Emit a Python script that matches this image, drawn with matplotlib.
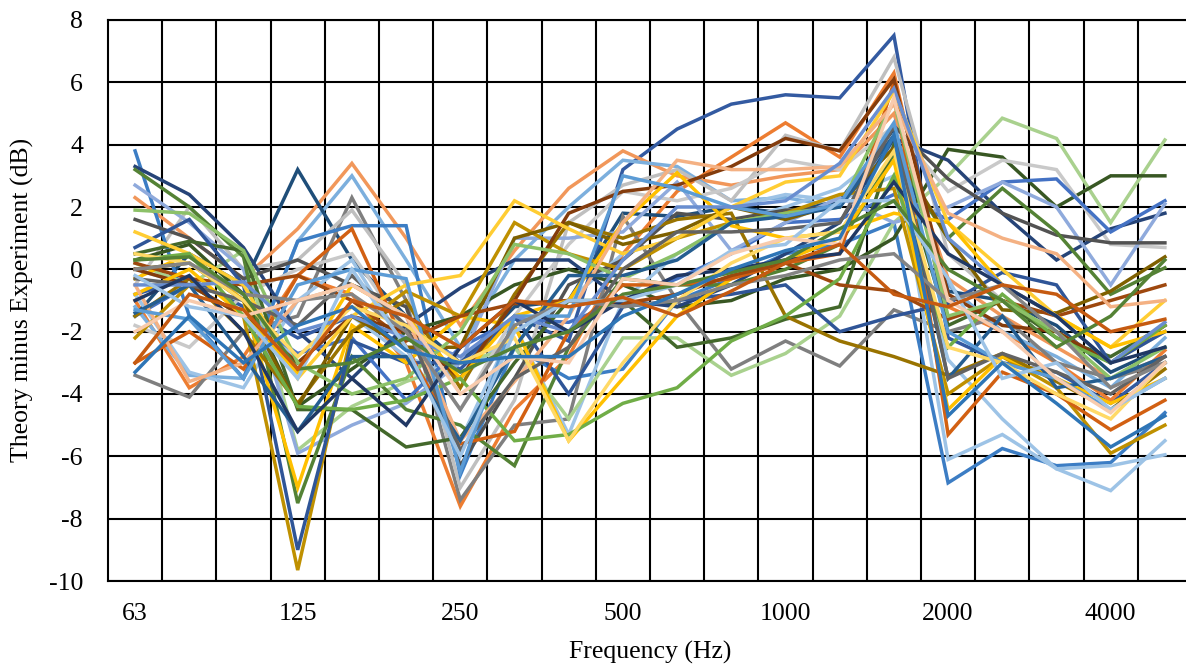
import numpy as np
import matplotlib.pyplot as plt

# one-third octave band centres
freqs = ['63', '80', '100', '125', '160', '200', '250', '315', '400', '500',
         '630', '800', '1000', '1250', '1600', '2000', '2500', '3150', '4000', '5000']
shown = ['63', '125', '250', '500', '1000', '2000', '4000']

# theory minus experiment, dB, one list per specimen
s01 = [-0.8, -0.3, -1.2, -2.2, -1.5, -2.5, -3.2, -1.5, -2.3, 3.2, 4.5, 5.3, 5.6, 5.5, 7.5, -2.2, -3.0, -3.3, -4.3, -3.0]
s02 = [-1.0, -3.8, -2.8, -0.2, -0.8, -3.0, -7.6, -4.5, -2.8, 0.5, 2.5, 3.6, 4.7, 3.6, 6.3, -1.2, -2.0, -3.0, -4.2, -2.6]
s03 = [2.3, 1.0, -0.3, 1.3, 3.4, 1.0, -1.8, 0.6, 2.6, 3.8, 3.0, 2.7, 3.0, 3.2, 5.0, -0.3, -1.5, -2.5, -3.5, -2.8]
s04 = [-1.2, -3.4, -3.5, 0.9, 3.0, 0.3, -2.5, 0.3, 2.0, 3.5, 3.3, 2.2, 2.3, 2.0, 4.1, -0.5, -2.0, -2.8, -3.8, -2.2]
s05 = [-1.5, 0.5, -0.5, 3.2, 0.3, -1.5, -3.0, -1.2, -1.0, 1.8, 1.7, 2.0, 1.8, 2.2, 4.5, -0.7, -1.0, -1.8, -3.3, -2.5]
s06 = [-3.4, -4.1, -2.0, -1.5, 2.3, -1.0, -7.4, -5.0, -4.8, 1.7, -1.0, -3.2, -2.3, -3.1, -1.3, -2.0, -1.5, -3.0, -3.5, -3.0]
s07 = [-0.5, 2.0, 0.0, 0.3, 1.9, -0.5, -7.0, -4.2, 1.5, 2.7, 3.2, 2.2, 4.3, 3.8, 6.8, 0.5, -1.0, -2.0, -3.0, -2.0]
s08 = [3.8, -1.5, -3.5, 0.9, 1.4, 1.4, -6.6, -2.5, -3.5, -3.2, -1.0, -0.3, 0.5, 0.8, 1.5, -6.85, -5.75, -6.3, -6.2, -4.6]
s09 = [-0.8, -3.3, -3.8, -1.0, 0.3, -2.5, -5.5, -1.8, -5.3, -1.0, 0.5, 1.5, 2.0, 2.6, 4.0, -6.1, -5.3, -6.4, -7.1, -5.5]
s10 = [0.0, -0.5, -1.0, -3.0, -1.5, -2.8, -3.5, -2.0, -1.0, 0.5, 1.0, 2.0, 2.4, 2.2, 3.0, -2.9, -4.8, -6.4, -6.3, -5.95]
s11 = [0.2, -0.5, 0.6, -5.8, -4.4, -3.6, -3.0, -2.5, -4.8, -2.2, -2.2, -3.4, -2.7, -1.5, 1.5, 3.0, 4.85, 4.2, 1.5, 4.15]
s12 = [0.3, 0.8, -0.8, -4.4, -3.2, -2.0, -1.5, -0.5, 0.0, -0.5, -1.2, -1.0, -0.3, 0.0, 1.0, 3.85, 3.6, 2.0, 3.0, 3.0]
s13 = [-1.8, -2.5, -0.8, 0.0, 0.5, -2.0, -4.5, -1.5, 0.8, 2.5, 2.2, 2.6, 3.5, 3.2, 4.6, 2.5, 3.5, 3.2, 0.8, 0.7]
s14 = [3.3, 2.4, 0.7, -2.0, -3.5, -1.8, -0.6, 0.3, 0.3, -1.0, -1.2, -0.5, 0.5, 1.5, 4.2, 3.5, 1.8, 0.3, 1.3, 1.8]
s15 = [-1.5, -0.5, -1.5, -2.7, -2.2, -4.2, -2.5, -1.6, -1.7, -1.0, -0.3, 0.5, 1.5, 1.6, 2.4, 1.6, 2.8, 2.9, 1.2, 2.2]
s16 = [2.7, 1.5, 0.0, -5.9, -5.0, -4.3, -3.0, 1.0, 1.0, 1.2, 2.8, 0.6, 1.5, 2.3, 1.5, 2.0, 2.8, 2.0, -0.5, 2.1]
s17 = [1.6, 1.0, -0.3, 0.3, -0.5, -1.2, -6.3, -3.5, -0.5, 0.3, 1.8, 1.6, 1.9, 2.0, 4.6, 2.9, 1.8, 1.1, 0.85, 0.85]
s18 = [3.2, 2.0, 0.4, -7.5, -2.8, -4.5, -5.0, -6.3, -2.5, -0.3, -0.5, -0.5, 0.0, 0.8, 3.7, 1.0, 2.6, 1.2, -0.8, 0.05]
s19 = [0.5, 0.9, 0.6, -4.5, -4.5, -5.7, -5.4, -3.0, -1.0, -1.0, -2.5, -2.2, -1.6, -1.2, 4.0, -1.8, -1.0, -2.2, -2.8, -1.8]
s20 = [-2.2, -0.5, -1.5, -9.65, -2.0, -0.7, -1.5, 1.5, 0.5, 0.0, 1.0, 1.5, 1.8, 2.4, 2.6, -4.0, -2.8, -3.8, -5.9, -5.0]
s21 = [0.7, 1.6, -0.5, -9.0, -2.3, -3.0, -3.0, -1.5, -4.0, -1.2, -1.0, -0.8, -0.5, -2.0, -1.5, -1.1, -0.1, -0.5, -3.0, -2.0]
s22 = [-0.3, 0.5, -1.0, -7.0, -1.8, -3.0, -1.5, -1.8, -5.5, -3.5, -1.5, -0.3, 0.3, 1.0, 3.5, -4.5, -2.8, -3.5, -4.3, -3.5]
s23 = [-1.5, -0.3, -2.0, -4.3, -2.0, -1.0, -3.8, -0.8, 1.5, 1.0, 1.6, 1.8, -1.5, -2.3, -2.8, -3.4, -2.7, -3.6, -4.5, -3.2]
s24 = [0.0, 0.2, -1.0, -4.4, -1.5, -2.5, -2.5, 1.0, 1.5, 0.8, 1.2, 2.0, 1.6, 2.1, 3.9, 1.0, -1.3, -1.4, -0.7, 0.4]
s25 = [-3.0, -2.0, -3.2, -0.2, 1.3, -2.5, -5.6, -5.2, -2.0, -0.5, -0.5, -0.3, 0.2, 0.5, 6.0, -5.3, -3.3, -4.0, -5.15, -4.2]
s26 = [0.2, -0.3, -0.5, -0.2, -1.0, -2.3, -1.5, -1.1, -1.0, -1.1, -0.8, -0.2, 0.2, -0.5, -0.7, -1.6, -1.0, -1.5, -1.0, -0.5]
s27 = [0.0, -0.5, -1.5, -3.0, -1.5, -2.0, -3.5, -1.0, 1.8, 2.5, 2.7, 3.3, 4.2, 3.8, 6.1, -0.8, -1.8, -2.0, -3.0, -1.8]
s28 = [1.2, 0.5, -0.5, -3.5, -1.5, -0.5, -0.2, 2.2, 1.3, 0.5, 1.0, 2.0, 2.8, 3.0, 5.7, 1.5, 0.0, -1.5, -2.5, -1.0]
s29 = [-0.8, 0.0, -1.5, -3.3, -0.5, -1.5, -3.5, -1.5, -1.0, 1.5, 3.1, 1.4, 1.0, 1.2, 1.8, 1.5, -0.5, -1.5, -2.5, -2.0]
s30 = [0.3, 0.5, -1.5, -4.4, -4.5, -4.2, -3.5, -5.5, -5.3, -4.3, -3.8, -2.3, -1.5, -0.3, 3.0, -2.5, -0.8, -2.2, -3.0, -1.8]
s31 = [1.9, 1.8, 0.6, -3.0, -4.0, -3.5, -2.0, 0.8, 0.5, -0.3, 0.5, 1.5, 1.8, 2.0, 5.4, -1.5, -1.0, -2.0, -3.5, -2.5]
s32 = [-0.5, -3.6, -3.0, -1.0, -0.5, -1.5, -5.5, -3.6, -1.5, 1.5, 3.5, 3.2, 3.2, 3.3, 5.3, 1.8, 1.0, 0.5, -1.2, -1.0]
s33 = [-1.4, -0.5, -2.8, -5.2, -2.8, -2.8, -5.5, -2.5, -0.2, -0.2, 0.3, 1.5, 1.7, 2.0, 4.3, -3.5, -1.5, -3.8, -3.5, -2.8]
s34 = [-0.3, -0.5, -1.0, -1.8, -0.2, -1.8, -5.8, -3.5, -2.5, 0.0, 1.2, 1.2, 1.3, 1.5, 4.6, -3.5, -2.7, -3.3, -4.0, -2.8]
s35 = [-1.3, -1.6, -3.5, -0.5, 0.0, -0.3, -6.5, -1.5, -1.5, 3.0, 2.6, 2.0, 1.7, 2.1, 4.7, -2.0, -3.0, -3.5, -4.5, -3.5]
s36 = [-0.5, -0.5, -0.4, -2.0, -1.5, -2.2, -2.8, -1.5, -2.0, 0.3, 2.0, 2.0, 2.2, 3.4, 5.8, 1.0, -0.5, -1.5, -3.0, -1.7]
s37 = [-1.0, -0.2, -2.0, -5.2, -3.5, -5.0, -2.5, -1.0, -2.0, -1.0, -0.2, 0.0, 0.3, 0.5, 2.8, 0.5, -0.5, -1.5, -3.0, -2.5]
s38 = [0.5, 0.2, -1.0, -2.8, -1.2, -1.8, -3.0, -2.2, -5.5, -3.0, -1.0, 0.2, 1.0, 1.2, 3.8, -2.5, -3.0, -4.0, -4.8, -3.0]
s39 = [0.0, 0.2, -0.8, -1.0, -0.8, -2.0, -4.5, -1.8, -1.0, -1.2, -1.0, -0.5, -0.2, 0.3, 0.5, -1.0, -0.5, -2.0, -3.8, -3.0]
s40 = [-0.2, -1.2, -1.5, -3.5, 0.0, -2.5, -6.0, -2.0, -1.0, -1.0, -0.5, 0.6, 0.8, 2.2, 2.2, -0.3, -3.5, -3.0, -4.5, -3.5]
s41 = [0.3, 0.4, -0.8, -3.2, -3.0, -2.2, -3.3, -2.5, -2.0, -0.8, -0.5, -0.1, 0.3, 1.3, 2.2, 0.0, -1.0, -2.5, -1.5, 0.3]
s42 = [-2.0, -1.0, -1.5, -1.0, -0.5, -1.5, -4.0, -2.8, -3.0, -0.3, -0.5, 0.5, 1.0, 0.8, 5.5, -1.0, -2.0, -3.5, -4.6, -3.0]
s43 = [-3.3, -1.5, -3.0, -1.8, -1.2, -2.6, -3.0, -2.8, -2.8, -1.5, -0.8, 0.0, 0.6, 1.0, 4.3, -4.7, -3.0, -4.3, -5.7, -4.7]
s44 = [-3.0, -0.8, -1.3, -3.2, -1.0, -1.5, -2.5, -1.0, -1.2, -0.9, -1.5, -0.7, 0.2, 0.8, -0.8, -1.2, -0.5, -0.8, -2.0, -1.6]

series = [s01, s02, s03, s04, s05, s06, s07, s08, s09, s10, s11, s12, s13, s14, s15,
          s16, s17, s18, s19, s20, s21, s22, s23, s24, s25, s26, s27, s28, s29, s30,
          s31, s32, s33, s34, s35, s36, s37, s38, s39, s40, s41, s42, s43, s44]
colors = ['#335AA1', '#ED7D31', '#F1975A', '#7CAFDD', '#1F4E79', '#7F7F7F', '#BFBFBF', '#3C7DC4',
          '#9DC3E6', '#9DC3E6', '#A9D18E', '#385723', '#C9C9C9', '#264478', '#4472C4', '#8FAADC',
          '#525252', '#548235', '#43682B', '#BF9000', '#2F5597', '#FFC000', '#997300', '#7F6000',
          '#D26012', '#9E480E', '#843C0C', '#FFCD33', '#FFC000', '#70AD47', '#8CC168', '#F4B183',
          '#255E91', '#636363', '#5B9BD5', '#698ED0', '#203864', '#FFD966', '#848484', '#9DC3E6',
          '#548235', '#F8CBAD', '#2E75B6', '#C55A11']

plt.rcParams['font.family'] = ['Liberation Serif', 'DejaVu Serif']

fig = plt.figure(figsize=(11.86, 6.67), dpi=100)
ax = fig.add_axes([108 / 1186, 86 / 667, 1084 / 1186, 561 / 667])

x = np.arange(len(freqs))
for vals, col in zip(series, colors):
    ax.plot(x, vals, color=col, lw=2.5, solid_joinstyle='miter', zorder=3)

ax.set_xlim(-0.5, len(freqs) - 0.5)
ax.set_ylim(-10, 8)
ax.set_yticks(np.arange(-10, 9, 2))
ax.set_yticklabels([str(v) for v in range(-10, 9, 2)])
ax.set_xticks([freqs.index(f) for f in shown])
ax.set_xticklabels(shown)
ax.set_xticks(np.arange(0.5, len(freqs) - 0.5, 1.0), minor=True)
ax.tick_params(axis='both', which='both', length=0, labelsize=18.5)
ax.tick_params(axis='y', pad=18)
ax.tick_params(axis='x', pad=16)

ax.grid(axis='y', which='major', color='black', lw=1.5, zorder=1)
ax.grid(axis='x', which='minor', color='black', lw=1.5, zorder=1)
for side in ['left', 'bottom', 'top']:
    ax.spines[side].set_color('black')
    ax.spines[side].set_linewidth(1.5)
ax.spines['right'].set_visible(False)

fig.text(650 / 1186, 1 - 652 / 667, 'Frequency (Hz)', ha='center', va='center', fontsize=18.5)
fig.text(22 / 1186, 1 - 300 / 667, 'Theory minus Experiment (dB)', ha='center', va='center',
         rotation=90, fontsize=18.5)

fig.savefig('out.png', dpi=100)
